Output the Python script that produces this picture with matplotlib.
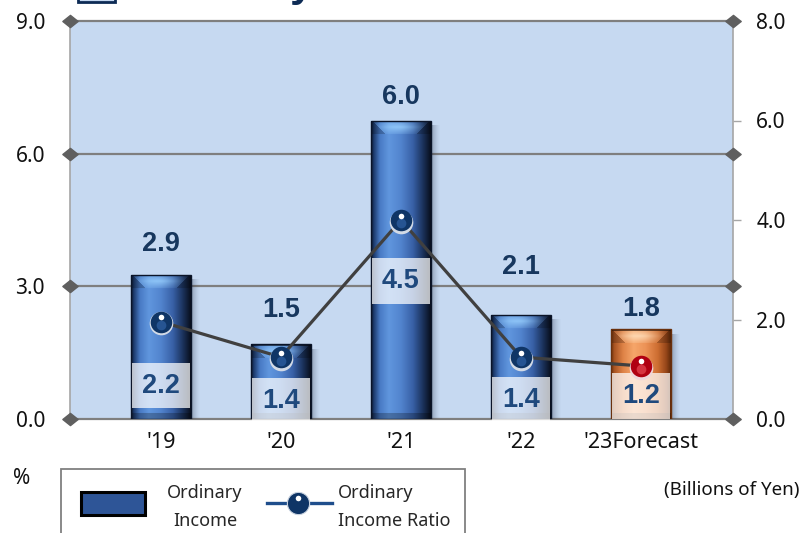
import numpy as np
import matplotlib
matplotlib.use("Agg")
import matplotlib.pyplot as plt
import matplotlib.transforms as mtransforms
from matplotlib.patches import Rectangle
from matplotlib.lines import Line2D
from matplotlib.path import Path

# ---- data -------------------------------------------------------------
years = ["'19", "'20", "'21", "'22", "'23Forecast"]
income = [2.9, 1.5, 6.0, 2.1, 1.8]        # Ordinary income, billions of yen (right axis)
ratio = [2.2, 1.4, 4.5, 1.4, 1.2]         # Ordinary income ratio, % (left axis)
is_forecast = [False, False, False, False, True]

income_ticks = [0, 2, 4, 6, 8]
ratio_ticks = [0, 3, 6, 9]

# label placement (points)
income_label_gap = [22, 24.5, 17, 34.5, 15]
ratio_label_drop = [46, 31.5, 44, 31, 21.5]

plt.rcParams['font.family'] = ['Noto Sans', 'DejaVu Sans']
BOLD_FONT = ['Liberation Sans', 'DejaVu Sans']

NAVY_TXT = '#17375E'
RATIO_TXT = '#1F497D'

fig = plt.figure(figsize=(8.04, 5.33), dpi=100)
W, H = 804, 533
ax = fig.add_axes([70 / W, 1 - 419 / H, 663 / W, 398 / H])
ax2 = ax.twinx()

x = np.arange(len(years))
XLIM = (-0.758, 4.767)
ax.set_xlim(*XLIM)
ax.set_ylim(0, 8)
ax2.set_ylim(0, 9)

ax.set_facecolor('#C6D9F1')
for s in ('top', 'bottom'):
    ax.spines[s].set_visible(False)
for s in ('left', 'right'):
    ax.spines[s].set_color('#a6a6a6')
    ax.spines[s].set_linewidth(1.2)
for s in ax2.spines.values():
    s.set_visible(False)

# ---- gridlines with diamond end caps (on % scale, behind the bars) ----
grid_tr = mtransforms.blended_transform_factory(ax.transAxes, ax2.transData)
diamond = Path([(-1, 0), (0, 0.8), (1, 0), (0, -0.8), (-1, 0)],
               [Path.MOVETO, Path.LINETO, Path.LINETO, Path.LINETO, Path.CLOSEPOLY])
for g in ratio_ticks:
    ax.plot([0, 1], [g, g], transform=grid_tr, color='#7f7f7f', lw=1.6,
            zorder=1, clip_on=False)
    ax.plot([0, 1], [g, g], transform=grid_tr, ls='none', marker=diamond,
            ms=11, color='#5f5f5f', zorder=8, clip_on=False)


# ---- glassy bars ------------------------------------------------------
def blend_stops(u, stops):
    pos = [p for p, _ in stops]
    cols = np.array([c for _, c in stops], float) / 255.0
    return np.stack([np.interp(u, pos, cols[:, k]) for k in range(3)], axis=-1)


def glass_image(w_px, h_px, stops, light):
    nc = max(int(round(w_px)), 2)
    nr = max(int(round(h_px)), 2)
    u = (np.arange(nc) + 0.5) / nc
    img = np.repeat(blend_stops(u, stops)[None], nr, axis=0)
    d = (np.arange(nr) + 0.5)[:, None]
    b = nr - d
    cx = (np.arange(nc) + 0.5)[None, :]
    bev = 14.0
    top_face = (d < bev) & (cx > d) & (nc - cx > d)
    glow = np.exp(-((u[None, :] - 0.45) / 0.32) ** 2) * \
        np.clip(1 - np.abs(d - bev * 0.5) / (bev * 0.65), 0, 1)
    wgt = np.where(top_face, 0.8 * glow, 0.0)
    img = img * (1 - wgt[..., None]) + np.array(light) / 255.0 * wgt[..., None]
    side = (d < bev) & ~top_face
    img = img * np.where(side, 0.8, 1.0)[..., None]
    img[:2] *= 0.45
    bot = (b < 6)
    img = img * np.where(bot, 0.75, 1.0)[..., None]
    return np.clip(img, 0, 1)


blue_stops = [(0.0, (10, 20, 40)), (0.05, (30, 60, 110)), (0.15, (72, 122, 196)),
              (0.3, (96, 150, 222)), (0.5, (82, 132, 206)), (0.7, (56, 96, 166)),
              (0.86, (28, 52, 95)), (1.0, (8, 14, 28))]
orange_stops = [(0.0, (110, 50, 10)), (0.06, (170, 85, 35)), (0.2, (222, 130, 70)),
                (0.38, (246, 166, 106)), (0.58, (236, 146, 86)), (0.78, (205, 110, 50)),
                (0.92, (150, 70, 25)), (1.0, (95, 42, 10))]

p0 = ax.transData.transform((0, 0))
p1 = ax.transData.transform((1, 1))
px_x = p1[0] - p0[0]
px_y = p1[1] - p0[1]

bars = ax.bar(x, income, width=0.5, color='none', linewidth=1.0, zorder=3)
for bar, fc in zip(bars, is_forecast):
    x0, w, h = bar.get_x(), bar.get_width(), bar.get_height()
    bar.set_edgecolor('#6a300c' if fc else '#0a1428')
    stops, light = (orange_stops, (255, 228, 195)) if fc else (blue_stops, (155, 210, 255))
    img = glass_image(w * px_x, h * px_y, stops, light)
    im = ax.imshow(img, extent=(x0, x0 + w, 0, h), aspect='auto',
                   interpolation='bilinear', zorder=2.5)
    im.set_clip_path(bar)
    # soft drop shadow on the right
    ns = 10
    sh = np.zeros((1, ns, 4))
    sh[..., :3] = (0.1, 0.14, 0.22)
    sh[..., 3] = 0.35 * (1 - (np.arange(ns) + 0.5) / ns) ** 1.6
    ax.imshow(sh, extent=(x0 + w, x0 + w + ns / px_x, 0, h - 5 / px_y),
              aspect='auto', interpolation='bilinear', zorder=2)

for xi, v, gap in zip(x, income, income_label_gap):
    ax.annotate(f"{v:.1f}", (xi, v), xytext=(0, gap), textcoords='offset points',
                ha='center', va='center', fontsize=19.5, fontweight='bold',
                family=BOLD_FONT, color=NAVY_TXT, zorder=6)

# ---- ratio line with glossy markers -----------------------------------
ax2.plot(x, ratio, color='#404040', lw=2.3, zorder=4, solid_capstyle='round')


def shifted(dx, dy):
    return mtransforms.offset_copy(ax2.transData, fig=fig, x=dx, y=dy, units='points')


for xi, yi, fc in zip(x, ratio, is_forecast):
    ball = '#b00012' if fc else '#0f3566'
    rim = '#eed6da' if fc else '#d2dae6'
    glow = '#e0404c' if fc else '#2c5d9e'
    ax2.plot(xi, yi, 'o', ms=17, mfc=rim, mec='none', zorder=5, transform=shifted(0, -1.2))
    ax2.plot(xi, yi, 'o', ms=15.5, mfc=ball, mec='none', zorder=6)
    ax2.plot(xi, yi, 'o', ms=7, mfc=glow, mec='none', alpha=0.8, zorder=6.5,
             transform=shifted(0, -2.5))
    ax2.plot(xi, yi, 'o', ms=4.0, mfc='white', mec='none', zorder=7,
             transform=shifted(0, 3.2))

for xi, yi, drop in zip(x, ratio, ratio_label_drop):
    ax2.annotate(f"{yi:.1f}", (xi, yi), xytext=(0, -drop), textcoords='offset points',
                 ha='center', va='center', fontsize=19.5, fontweight='bold',
                 family=BOLD_FONT, color=RATIO_TXT, zorder=3,
                 bbox=dict(boxstyle='square,pad=0.36', fc='white', ec='none', alpha=0.72))

# ---- axes ticks -------------------------------------------------------
ax.set_xticks(x)
ax.set_xticklabels(years)
ax.tick_params(axis='x', length=0, pad=9, labelsize=15.5, labelcolor='#111111')

ax.yaxis.tick_right()
ax.set_yticks(income_ticks)
ax.set_yticklabels([f"{t:.1f}" for t in income_ticks])
ax.tick_params(axis='y', right=True, left=False, length=5.8, width=1, color='#a6a6a6',
               pad=11, labelsize=15, labelcolor='#111111')

ax2.yaxis.tick_left()
ax2.set_yticks(ratio_ticks)
ax2.set_yticklabels([f"{t:.1f}" for t in ratio_ticks])
ax2.tick_params(axis='y', left=True, right=False, length=0, pad=18, labelsize=15,
                labelcolor='#111111')

ax.set_xlim(*XLIM)
ax.set_ylim(0, 8)
ax2.set_ylim(0, 9)

# ---- header -----------------------------------------------------------
fig.add_artist(Rectangle((78 / W, 1 - 2 / H), 37 / W, 40 / H, transform=fig.transFigure,
                         fc='#C6D9F1', ec='#0D2B55', lw=2))
fig.text(135 / W, 1 + 4 / H, "Ordinary Income", fontsize=31, fontweight='bold',
         family=BOLD_FONT, color='#0D2B55', ha='left', va='baseline')

# ---- unit captions ----------------------------------------------------
fig.text(22 / W, 1 - 478 / H, "%", fontsize=15, ha='center', va='center', color='#111111')
fig.text(800 / W, 1 - 490 / H, "(Billions of Yen)", fontsize=13.5, ha='right',
         va='center', color='#111111')

# ---- legend -----------------------------------------------------------
fig.add_artist(Rectangle((61 / W, -0.05), (465 - 61) / W, (1 - 469 / H) + 0.05,
                         transform=fig.transFigure, fc='white', ec='#808080', lw=1.3))
fig.add_artist(Rectangle((81 / W, 1 - 515 / H), 64 / W, 23 / H, transform=fig.transFigure,
                         fc='#2E5597', ec='black', lw=2.2))
fig.text(205 / W, 1 - 493 / H, "Ordinary", fontsize=13, ha='center', va='center',
         color='#262626')
fig.text(205 / W, 1 - 521 / H, "Income", fontsize=13, ha='center', va='center',
         color='#262626')
fig.add_artist(Line2D([267 / W, 332 / W], [1 - 503 / H, 1 - 503 / H],
                      transform=fig.transFigure, color='#1F4E8C', lw=2.4))
fig.add_artist(Line2D([298 / W], [1 - 503 / H], transform=fig.transFigure, marker='o',
                      ms=16, mfc='#0f3566', mec='#c9d3e0', mew=0.8))
fig.add_artist(Line2D([298 / W], [1 - 498 / H], transform=fig.transFigure, marker='o',
                      ms=4, mfc='white', mec='none'))
fig.text(338 / W, 1 - 493 / H, "Ordinary", fontsize=13, ha='left', va='center',
         color='#262626')
fig.text(338 / W, 1 - 521 / H, "Income Ratio", fontsize=13, ha='left', va='center',
         color='#262626')

fig.savefig("out.png", dpi=100)
